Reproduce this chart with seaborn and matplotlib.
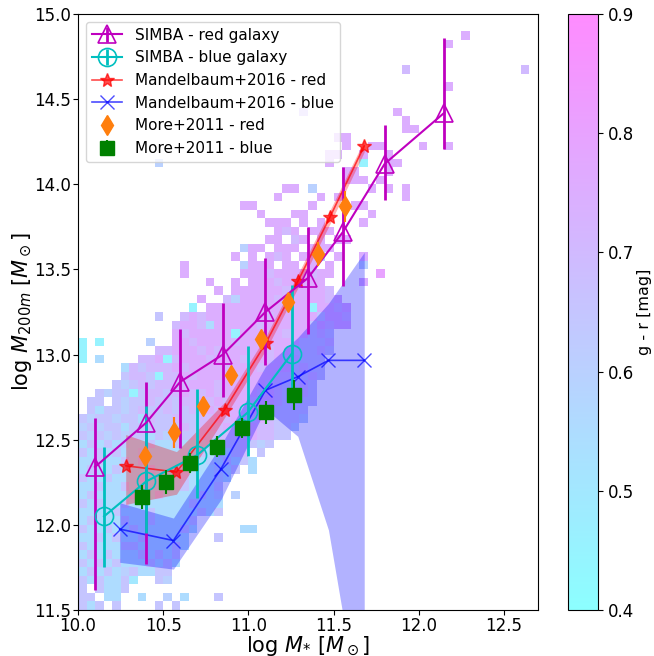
import numpy as np
import matplotlib
matplotlib.use("Agg")
import matplotlib.pyplot as plt
import seaborn as sns

# ---------------- data ----------------
# SIMBA red galaxies (median, 16th / 84th percentiles)
simba_red_x = [10.10, 10.40, 10.60, 10.85, 11.10, 11.35, 11.555, 11.80, 12.15]
simba_red_y = [12.34, 12.60, 12.84, 13.00, 13.25, 13.45, 13.72, 14.12, 14.42]
simba_red_lo = [11.62, 11.77, 12.45, 12.75, 12.94, 13.12, 13.40, 13.91, 14.21]
simba_red_hi = [12.63, 12.84, 13.15, 13.30, 13.57, 13.75, 14.10, 14.35, 14.86]

# SIMBA blue galaxies
simba_blue_x = [10.153, 10.40, 10.70, 10.996, 11.255]
simba_blue_y = [12.05, 12.255, 12.41, 12.66, 13.006]
simba_blue_lo = [11.755, 11.95, 12.157, 12.406, 12.76]
simba_blue_hi = [12.457, 12.70, 12.80, 13.05, 13.41]

# Mandelbaum+2016 red
mand_red_x = [10.28, 10.578, 10.86, 11.104, 11.29, 11.48, 11.68]
mand_red_y = [12.347, 12.31, 12.676, 13.07, 13.43, 13.81, 14.225]
mand_red_lo = [12.12, 12.18, 12.63, 13.03, 13.39, 13.77, 14.19]
mand_red_hi = [12.53, 12.43, 12.72, 13.11, 13.47, 13.85, 14.26]

# Mandelbaum+2016 blue
mand_blue_x = [10.245, 10.56, 10.84, 11.10, 11.29, 11.47, 11.68]
mand_blue_y = [11.975, 11.908, 12.33, 12.79, 12.87, 12.966, 12.966]
mand_blue_lo = [11.78, 11.74, 12.15, 12.68, 12.52, 11.97, 10.74]
mand_blue_hi = [12.13, 12.04, 12.47, 12.93, 13.10, 13.30, 13.60]

# More+2011 red
more_red_x = [10.394, 10.565, 10.735, 10.90, 11.075, 11.235, 11.41, 11.57]
more_red_y = [12.406, 12.543, 12.70, 12.88, 13.09, 13.31, 13.59, 13.87]
more_red_err = [0.05, 0.09, 0.05, 0.04, 0.05, 0.05, 0.07, 0.09]

# More+2011 blue
more_blue_x = [10.375, 10.516, 10.66, 10.815, 10.963, 11.104, 11.267]
more_blue_y = [12.163, 12.25, 12.363, 12.46, 12.57, 12.66, 12.763]
more_blue_err = [0.07, 0.07, 0.06, 0.06, 0.06, 0.07, 0.09]

# 2D map of mean g-r per (log M*, log M200m) cell, 0.05 dex bins,
# x from 10.0 to 12.7, y rows from 15.0 (top) to 11.5 (bottom).
# '.' = empty, digit d -> g-r = 0.40 + 0.05*d
hist_rows = [
    "..........|..........|..........|..........|..........|....",
    "..........|..........|..........|..........|..........|....",
    "..........|..........|..........|..........|.....7....|....",
    "..........|..........|..........|..........|...7......|....",
    "..........|..........|..........|..........|..........|....",
    "..........|..........|..........|..........|..........|....",
    "..........|..........|..........|........6.|..........|..6.",
    "..........|..........|..........|..........|..........|....",
    "..........|..........|..........|..........|...7......|....",
    "..........|..........|..........|..........|..........|....",
    "..........|..........|..........|..........|..........|....",
    "..........|..........|......6...|.......7..|..........|....",
    "..........|..........|..........|........7.|..........|....",
    "..........|..........|..........|........77|..........|....",
    "..........|..........|..........|77........|..........|....",
    "..........|..........|..........|.7..77....|7..7......|....",
    "..........|..........|.........7|7..7..7...|..........|....",
    ".........4|..........|.........7|...1..77..|..........|....",
    "..........|..........|..........|.77...7...|..........|....",
    "..........|..........|..........|.777.7....|..........|....",
    "..........|..........|....77.4..|....7.7.7.|..........|....",
    "..........|..........|...7....7.|7.......7.|..........|....",
    "..........|.........7|7......7..|..77......|..........|....",
    "..........|..........|.7...77...|....7.....|..........|....",
    "..........|..........|..777.7.7.|...7......|..........|....",
    "..........|..........|...767.777|..........|..........|....",
    "..........|..........|..77.67.7.|77........|..........|....",
    "..........|.........4|77.777.777|..........|..........|....",
    "..........|........7.|7.767.774.|7..7......|..........|....",
    "..........|..7......4|777.77.7.7|...4......|..........|....",
    "..........|..7......7|7767777677|.....8....|..........|....",
    "..........|.....7..7.|777677777.|...7......|..........|....",
    "..........|......7.77|7777677776|..........|..........|....",
    "..........|....7..647|7776777776|7.........|..........|....",
    "..........|...1.77777|7777677177|67........|..........|....",
    ".........5|..67677777|7767777757|76........|..........|....",
    "..........|.677637777|7677777576|77........|..........|....",
    "..........|.767777717|7777677565|..........|..........|....",
    "1.1.....4.|.776777767|7677775556|..........|..........|....",
    "1........6|6777676777|7767755565|..........|..........|....",
    "1.3....667|1677767776|776766555.|..........|..........|....",
    ".....36566|6767777677|767775655.|..........|..........|....",
    ".....56651|6676777767|777665565.|..........|..........|....",
    "....545656|6667776777|77665565..|..........|..........|....",
    "..54551566|5676676777|76765565..|..........|..........|....",
    ".55.545565|6566767677|67765555..|..........|..........|....",
    ".535545655|6556676776|7675555...|..........|..........|....",
    "5455455365|5655667676|6765554...|..........|..........|....",
    "4545535555|5565666766|766554....|..........|..........|....",
    "5454545535|4555656667|76655.....|..........|..........|....",
    "3535343353|3533453556|545.......|..........|..........|....",
    "5353533433|3343535356|.5........|..........|..........|....",
    "3353353533|3335343535|3.........|..........|..........|....",
    "3533533353|335333435.|3.........|..........|..........|....",
    "5335333533|33533343..|..........|..........|..........|....",
    "3353353333|3353335...|..........|..........|..........|....",
    "3533335335|3333534.4.|..........|..........|..........|....",
    "5353353333|3335333...|..........|..........|..........|....",
    "3333533353|3333535...|..........|..........|..........|....",
    "3533353353|3335......|..........|..........|..........|....",
    "5335335333|3353.....3|3.........|..........|..........|....",
    "3353533533|333...5...|..........|..........|..........|....",
    "5333355333|353.......|..........|..........|..........|....",
    "3535333535|35........|..........|..........|..........|....",
    "5353533353|53........|..........|..........|..........|....",
    "3535345335|5.........|..........|..........|..........|....",
    "5353352..5|4.........|..........|..........|..........|....",
    "5.5335....|..........|..........|..........|..........|....",
    "55.33..3..|4.3...5...|..........|..........|..........|....",
    "535.5....5|.5........|..........|..........|..........|....",
]

# ---------------- figure ----------------
fig = plt.figure(figsize=(6.54, 6.56), dpi=100)
ax = fig.add_axes([78 / 654, 46 / 656, 460 / 654, 596 / 656])
cax = fig.add_axes([568 / 654, 46 / 656, 30 / 654, 596 / 656])

ncol = 54
grid = np.array([
    [np.nan if ch == "." else 0.40 + 0.05 * int(ch)
     for ch in row.replace("|", "").ljust(ncol, ".")[:ncol]]
    for row in hist_rows
])[::-1]
xe = 10.0 + 0.05 * np.arange(grid.shape[1] + 1)
ye = 11.5 + 0.05 * np.arange(grid.shape[0] + 1)
mesh = ax.pcolormesh(xe, ye, np.ma.masked_invalid(grid), cmap="cool",
                     vmin=0.4, vmax=0.9, alpha=0.45, zorder=0,
                     edgecolors="none", linewidth=0)

# shaded bands
ax.fill_between(mand_red_x, mand_red_lo, mand_red_hi, color="red",
                alpha=0.3, lw=0, zorder=1)
ax.fill_between(mand_blue_x, mand_blue_lo, mand_blue_hi, color="blue",
                alpha=0.3, lw=0, zorder=1)

# SIMBA
h_sr = ax.errorbar(simba_red_x, simba_red_y,
                   yerr=[np.subtract(simba_red_y, simba_red_lo),
                         np.subtract(simba_red_hi, simba_red_y)],
                   fmt="^-", color="m", mfc="none", ms=13, mew=1.2,
                   lw=1.5, elinewidth=2, capsize=0, zorder=4)
h_sb = ax.errorbar(simba_blue_x, simba_blue_y,
                   yerr=[np.subtract(simba_blue_y, simba_blue_lo),
                         np.subtract(simba_blue_hi, simba_blue_y)],
                   fmt="o-", color="c", mfc="none", ms=13, mew=1.2,
                   lw=1.5, elinewidth=2, capsize=0, zorder=4)

# Mandelbaum lines with seaborn
sns.lineplot(x=mand_red_x, y=mand_red_y, ax=ax, color="red", alpha=0.7,
             marker="*", markersize=10, markeredgecolor="red",
             markeredgewidth=1, lw=1.2, sort=False, zorder=3)
h_mr = ax.lines[-1]
sns.lineplot(x=mand_blue_x, y=mand_blue_y, ax=ax, color="blue", alpha=0.7,
             marker="x", markersize=10, markeredgecolor="blue",
             markeredgewidth=1, lw=1.2, sort=False, zorder=3)
h_mb = ax.lines[-1]

# More+2011
h_or = ax.errorbar(more_red_x, more_red_y, yerr=more_red_err, fmt="d",
                   color="C1", ms=10, elinewidth=1.5, capsize=0, zorder=5)
h_ob = ax.errorbar(more_blue_x, more_blue_y, yerr=more_blue_err, fmt="s",
                   color="green", ms=10, elinewidth=1.5, capsize=0, zorder=5)

ax.set_xlim(10.0, 12.7)
ax.set_ylim(11.5, 15.0)
ax.set_xticks([10.0, 10.5, 11.0, 11.5, 12.0, 12.5])
ax.set_yticks([11.5, 12.0, 12.5, 13.0, 13.5, 14.0, 14.5, 15.0])
ax.tick_params(labelsize=12, pad=1.5)
ax.set_xlabel(r"log $M_{*}$ [$M_\odot$]", fontsize=15)
ax.set_ylabel(r"log $M_{200m}$ [$M_\odot$]", fontsize=15)
ax.xaxis.set_label_coords(0.5, -0.04)
ax.yaxis.set_label_coords(-0.095, 0.5)

ax.legend([h_sr, h_sb, h_mr, h_mb, h_or, h_ob],
          ["SIMBA - red galaxy", "SIMBA - blue galaxy",
           "Mandelbaum+2016 - red", "Mandelbaum+2016 - blue",
           "More+2011 - red", "More+2011 - blue"],
          loc="upper left", fontsize=11)

cb = fig.colorbar(mesh, cax=cax)
cb.set_ticks([0.4, 0.5, 0.6, 0.7, 0.8, 0.9])
cb.ax.tick_params(labelsize=12)
cb.set_label("g - r [mag]", fontsize=11.5)
cb.ax.yaxis.set_label_coords(2.3, 0.5)

fig.savefig("out.png", dpi=100)
